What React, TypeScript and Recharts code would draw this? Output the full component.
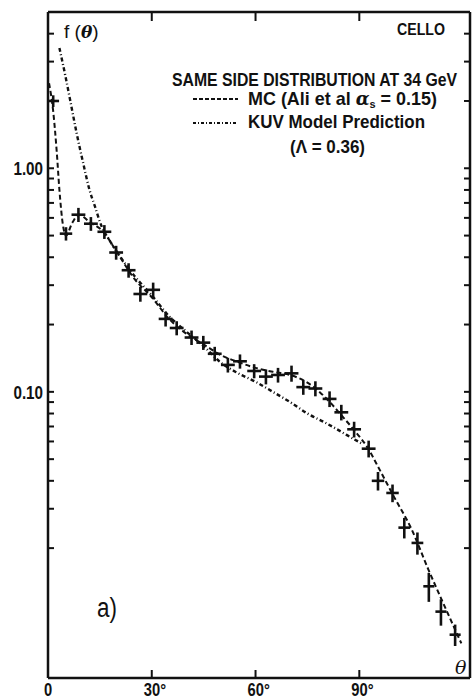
import React from "react";
import { ComposedChart, Line, Scatter, ErrorBar, XAxis, YAxis } from "recharts";

// measured points (CELLO, same side, 34 GeV)
const dataTheta = [1.5, 5.2, 8.8, 12.4, 16.3, 19.7, 23.3, 26.7, 30.4, 34, 37.2, 41.5, 44.9, 48.2, 52, 55.5, 59.6, 63, 66.5, 70.4, 73.8, 77.3, 81.4, 84.8, 88.5, 92.7, 95.4, 99.6, 103, 106.8, 110.1, 113.6, 117.7];
const dataValues = [2.0, 0.51, 0.62, 0.565, 0.52, 0.42, 0.35, 0.274, 0.286, 0.212, 0.193, 0.175, 0.166, 0.148, 0.132, 0.137, 0.124, 0.117, 0.119, 0.121, 0.105, 0.1035, 0.093, 0.081, 0.068, 0.0557, 0.04, 0.0353, 0.0247, 0.0211, 0.0135, 0.0104, 0.0082];
const dataYErr = [0.12, 0.035, 0.045, 0.04, 0.037, 0.03, 0.026, 0.021, 0.022, 0.016, 0.014, 0.013, 0.012, 0.011, 0.01, 0.01, 0.009, 0.009, 0.009, 0.01, 0.008, 0.008, 0.0075, 0.0065, 0.0055, 0.0048, 0.0038, 0.0032, 0.0026, 0.0024, 0.002, 0.0014, 0.0009];
const dataXErr = [1.7, 1.8, 2, 2, 2, 2, 2, 2, 2, 2, 2, 2, 2, 2, 2, 2, 2, 2, 2, 2, 2, 2, 2, 2, 2, 2, 1.8, 1.8, 1.7, 1.7, 1.6, 1.6, 1.6];

// MC (Ali et al, alpha_s = 0.15)
const mcTheta = [0.3, 1.5, 2.5, 3.3, 4.3, 5.2, 7, 9, 12, 16, 20, 25, 30, 35, 40, 45, 50, 55, 60, 65, 70, 75, 80, 85, 89, 92.5, 95.5, 100, 105, 110, 115, 119.5];
const mcValues = [2.4, 1.8, 1.2, 0.8, 0.56, 0.5, 0.57, 0.62, 0.575, 0.52, 0.42, 0.32, 0.265, 0.212, 0.182, 0.163, 0.146, 0.136, 0.128, 0.123, 0.119, 0.11, 0.095, 0.078, 0.066, 0.056, 0.046, 0.034, 0.0245, 0.016, 0.0107, 0.0075];

// KUV model prediction (Lambda = 0.36)
const kuvTheta = [3.3, 5, 6.4, 8.3, 10.2, 12, 13.5, 15.5, 18, 21, 25, 30, 35, 40, 45, 50, 55, 60, 65, 70, 75, 80, 85, 88, 90.5];
const kuvValues = [3.45, 2.6, 2.02, 1.43, 1.05, 0.8, 0.68, 0.55, 0.47, 0.4, 0.33, 0.27, 0.218, 0.186, 0.16, 0.135, 0.121, 0.111, 0.1, 0.09, 0.08, 0.073, 0.066, 0.062, 0.059];

const xTicks = [0, 30, 60, 90];
const xTickLabels = ["0", "30°", "60°", "90°"];
const yTicks = [0.02, 0.03, 0.04, 0.05, 0.06, 0.07, 0.08, 0.09, 0.1, 0.2, 0.3, 0.4, 0.5, 0.6, 0.7, 0.8, 0.9, 1, 2, 3, 4];
const yLabels: { [v: string]: string } = { "1": "1.00", "0.1": "0.10" };

const FONT = "'Liberation Sans',Arial,sans-serif";
const INK = "#111";

const points = dataTheta.map((t, i) => ({ theta: t, f: dataValues[i], yErr: dataYErr[i], xErr: dataXErr[i] }));
const mcData = mcTheta.map((t, i) => ({ theta: t, f: mcValues[i] }));
const kuvData = kuvTheta.map((t, i) => ({ theta: t, f: kuvValues[i] }));

// narrow bold text, squeezed horizontally like the condensed typeface of the original
const Narrow = (props: any) => {
  const { x, y, sx, size, width, anchor, weight, children } = props;
  return (
    <text
      transform={`translate(${x},${y}) scale(${sx},1)`}
      textAnchor={anchor || "start"}
      fontFamily={FONT}
      fontWeight={weight || "bold"}
      fontSize={size}
      fill={INK}
      textLength={width ? width / sx : undefined}
      lengthAdjust="spacingAndGlyphs"
    >
      {children}
    </text>
  );
};

const BottomTick = (props: any) => {
  const { x, y, payload, index } = props;
  return (
    <g>
      {payload.value !== 0 && <line x1={x} y1={y} x2={x} y2={y - 8} stroke={INK} strokeWidth={2} />}
      <Narrow x={x - (payload.value === 0 ? 4 : 8)} y={y + 18} sx={0.82} size={18}>
        {xTickLabels[index]}
      </Narrow>
    </g>
  );
};

const TopTick = (props: any) => {
  const { x, y } = props;
  return <line x1={x} y1={y} x2={x} y2={y + 9} stroke={INK} strokeWidth={2} />;
};

const LeftTick = (props: any) => {
  const { x, y, payload } = props;
  const label = yLabels[String(payload.value)];
  return (
    <g>
      <line x1={x} y1={y} x2={x + 6} y2={y} stroke={INK} strokeWidth={2} />
      {label && (
        <Narrow x={x - 5} y={y + 7} sx={0.8} size={19} anchor="end">
          {label}
        </Narrow>
      )}
    </g>
  );
};

const RightTick = (props: any) => {
  const { x, y } = props;
  return <line x1={x} y1={y} x2={x - 6} y2={y} stroke={INK} strokeWidth={2} />;
};

const NoDot = () => <g />;

const App: React.FC = () => {
  const axisLine = { stroke: INK, strokeWidth: 2.5 };
  return (
    <div style={{ position: "absolute", left: 0, top: 0, background: "#fff" }}>
      <ComposedChart width={473} height={700} margin={{ top: 0, right: 0, bottom: 0, left: 0 }}>
        <XAxis xAxisId="bottom" type="number" dataKey="theta" domain={[0, 122]} ticks={xTicks} allowDataOverflow height={22} tickSize={0} tickMargin={0} tickLine={false} axisLine={axisLine} tick={<BottomTick />} interval={0} />
        <XAxis xAxisId="top" orientation="top" type="number" dataKey="theta" domain={[0, 122]} ticks={[30, 60, 90]} allowDataOverflow height={12} tickSize={0} tickMargin={0} tickLine={false} axisLine={axisLine} tick={<TopTick />} interval={0} />
        <YAxis yAxisId="left" type="number" scale="log" domain={[0.00525, 5]} ticks={yTicks} allowDataOverflow width={48} tickSize={0} tickMargin={0} tickLine={false} axisLine={axisLine} tick={<LeftTick />} interval={0} />
        <YAxis yAxisId="right" orientation="right" type="number" scale="log" domain={[0.00525, 5]} ticks={yTicks} allowDataOverflow width={3} tickSize={0} tickMargin={0} tickLine={false} axisLine={axisLine} tick={<RightTick />} interval={0} />

        <Line xAxisId="bottom" yAxisId="left" data={mcData} dataKey="f" type="monotone" stroke={INK} strokeWidth={2} strokeDasharray="5 3" dot={false} isAnimationActive={false} />
        <Line xAxisId="bottom" yAxisId="left" data={kuvData} dataKey="f" type="monotone" stroke={INK} strokeWidth={2.4} strokeDasharray="4 2.5 1 2.5" dot={false} isAnimationActive={false} />
        <Scatter xAxisId="bottom" yAxisId="left" data={points} dataKey="f" shape={<NoDot />} isAnimationActive={false}>
          <ErrorBar dataKey="yErr" direction="y" width={0} stroke={INK} strokeWidth={2.6} isAnimationActive={false} />
          <ErrorBar dataKey="xErr" direction="x" width={0} stroke={INK} strokeWidth={2.6} isAnimationActive={false} />
        </Scatter>

        <text x={64} y={38} fontFamily={FONT} fontSize={19} fill={INK}>
          f (<tspan fontFamily="'DejaVu Serif',serif" fontStyle="italic" fontWeight="bold" fontSize={17}>θ</tspan>)
        </text>
        <Narrow x={397} y={35} sx={0.88} size={16} width={48}>CELLO</Narrow>
        <Narrow x={172} y={86} sx={0.87} size={18} width={285}>SAME SIDE DISTRIBUTION AT 34 GeV</Narrow>
        <line x1={193} y1={99} x2={238} y2={99} stroke={INK} strokeWidth={2} strokeDasharray="4 2" />
        <Narrow x={248} y={105} sx={0.95} size={18} width={189}>
          MC (Ali et al <tspan fontStyle="italic" fontFamily="'DejaVu Serif',serif">α</tspan>
          <tspan fontSize={11} dy={3}>s</tspan>
          <tspan dy={-3}> = 0.15)</tspan>
        </Narrow>
        <line x1={193} y1={123} x2={238} y2={123} stroke={INK} strokeWidth={2.2} strokeDasharray="3 2 1 2" />
        <Narrow x={248} y={128} sx={0.92} size={18} width={177}>KUV Model Prediction</Narrow>
        <Narrow x={290} y={153} sx={0.89} size={19} width={75}>(Λ = 0.36)</Narrow>
        <Narrow x={97} y={617} sx={0.8} size={28} weight="normal">a)</Narrow>
        <text x={455} y={674} fontFamily="'DejaVu Serif',serif" fontStyle="italic" fontSize={19} fill={INK}>θ</text>
      </ComposedChart>
    </div>
  );
};

export default App;
